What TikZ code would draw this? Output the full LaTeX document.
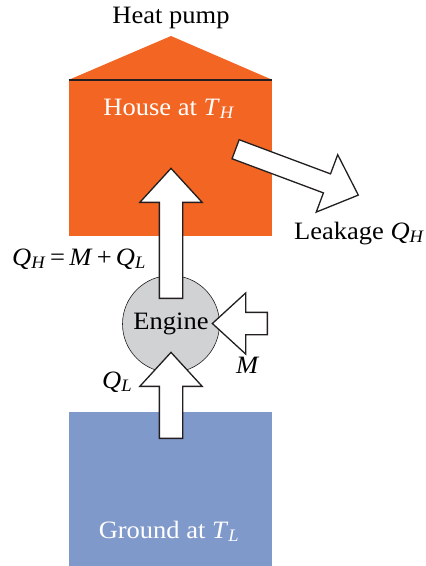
\documentclass[tikz,border=0pt]{standalone}
\usepackage{fontspec}
\setmainfont{Liberation Serif}[FakeStretch=1.06]
\usetikzlibrary{shapes.arrows, positioning}
\definecolor{housecolor}{RGB}{242,101,34}
\definecolor{groundcolor}{RGB}{128,153,203}
\definecolor{enginecolor}{RGB}{209,210,212}
\definecolor{edgecolor}{RGB}{35,31,32}
\tikzset{
    zone/.style={rectangle, inner sep=0pt, minimum width=203pt},
    fatarrow/.style={single arrow, draw=edgecolor, fill=white, line width=1.3pt,
        inner xsep=0pt, inner ysep=11pt, minimum width=0pt, single arrow head extend=19.5pt,
        single arrow tip angle=85, anchor=tail},
    lbl/.style={inner sep=0pt}
}
\newcommand{\qsub}[2]{\textit{#1}\textsubscript{\textit{#2}}}

\begin{document}
\begin{tikzpicture}[x=1pt, y=-1pt, font=\fontsize{25}{29}\selectfont]
    \useasboundingbox (0,0) rectangle (426,566);

    % house with its roof
    \node[zone, fill=housecolor, minimum height=156pt] (house) at (170.5,158) {};
    \fill[housecolor] (house.north west) -- (171,36) -- (house.north east) -- cycle;
    \draw[line width=2pt, edgecolor] (house.north west) -- (house.north east);
    \node[lbl, anchor=base] (pumplabel) at (171,23) {Heat pump};
    \node[lbl, anchor=base, text=white] (houselabel) at (169,115) {House at \qsub{T}{H}};

    % ground
    \node[zone, fill=groundcolor, minimum height=154pt] (ground) at (170.5,489) {};
    \node[lbl, anchor=base, text=white] (groundlabel) at (169,538) {Ground at \qsub{T}{L}};

    % engine
    \node[circle, draw=edgecolor, fill=enginecolor, minimum size=97pt, inner sep=0pt,
        line width=0.6pt] (engine) at (171,324) {Engine};

    % heat and work flows
    \coordinate (qhtail) at (171,299);
    \coordinate (qltail) at (171,439);
    \coordinate (mtail) at (268,323.5);
    \coordinate (leaktail) at (235,149);
    \node[fatarrow, minimum height=130pt, rotate=90] (qharrow) at (qhtail) {};
    \node[fatarrow, minimum height=86pt, rotate=90] (qlarrow) at (qltail) {};
    \node[fatarrow, minimum height=55pt, rotate=180, inner ysep=10.5pt] (marrow) at (mtail) {};
    \node[fatarrow, minimum height=131pt, rotate=-20.5, inner ysep=9.5pt,
        single arrow head extend=20.5pt] (leakarrow) at (leaktail) {};

    \node[lbl, anchor=base west] (qhlabel) at (12,265) {\qsub{Q}{H}\,=\,\textit{M}\,+\,\qsub{Q}{L}};
    \node[lbl, anchor=base west] (qllabel) at (102,388) {\qsub{Q}{L}};
    \node[lbl, anchor=base west] (mlabel) at (236,373) {\textit{M}};
    \node[lbl, anchor=base west] (leaklabel) at (294,239) {Leakage \qsub{Q}{H}};

\end{tikzpicture}
\end{document}
